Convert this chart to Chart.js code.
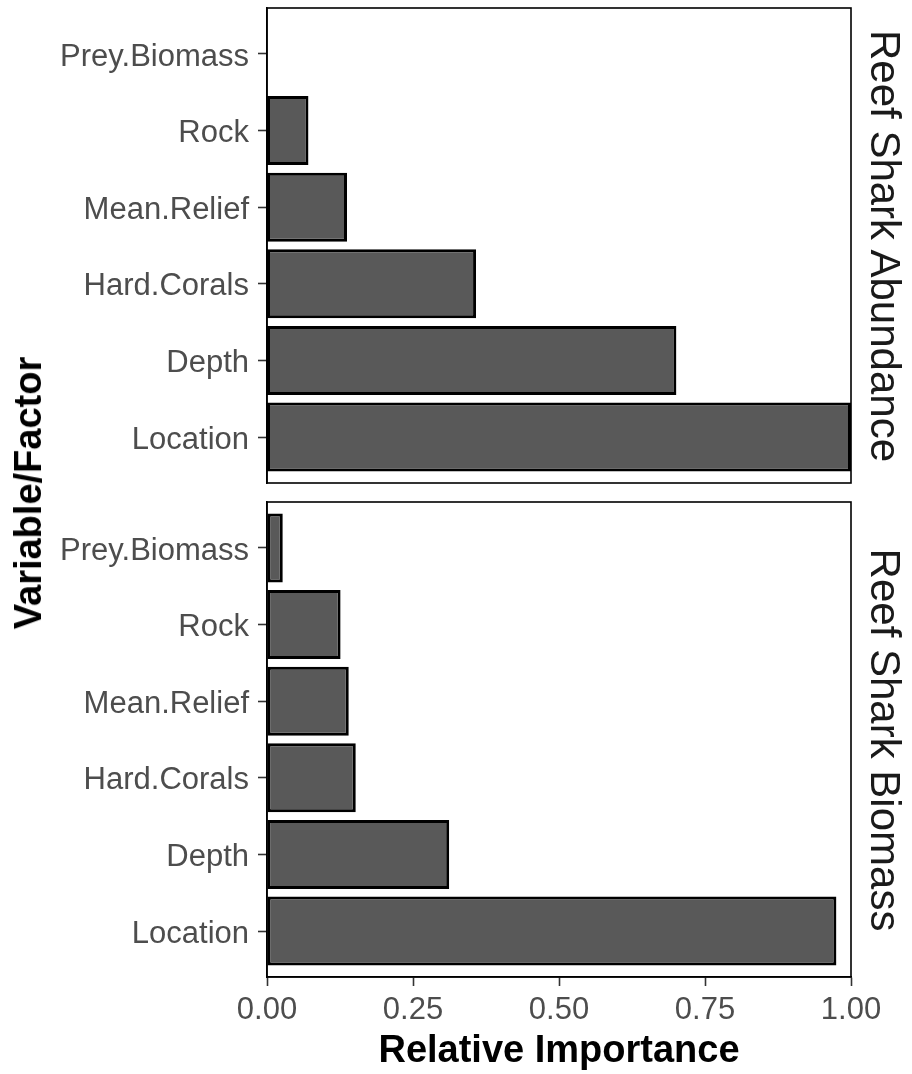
<!DOCTYPE html>
<html>
<head>
<meta charset="utf-8">
<script src="https://cdn.jsdelivr.net/npm/chart.js@4/dist/chart.umd.min.js"></script>
<style>
  html, body { margin: 0; padding: 0; background: #ffffff; }
  body { width: 912px; height: 1074px; position: relative; overflow: hidden; font-family: "Liberation Sans", Arial, sans-serif; }
  .cv { position: absolute; left: 0; }
  .lbl { position: absolute; white-space: nowrap; line-height: 1; }
  #ytitle { font-weight: bold; font-size: 38px; color: #000; left: 28px; top: 493px; transform: translate(-50%, -50%) rotate(-90deg); }
  .strip { font-size: 42px; color: #1a1a1a; left: 885px; transform: translate(-50%, -50%) rotate(90deg); }
  #s1 { top: 246px; }
  #s2 { top: 740px; }
</style>
</head>
<body>
<div class="cv" style="top:0;width:912px;height:492px;"><canvas id="c1"></canvas></div>
<div class="cv" style="top:492px;width:912px;height:582px;"><canvas id="c2"></canvas></div>
<div id="ytitle" class="lbl">Variable/Factor</div>
<div id="s1" class="lbl strip">Reef Shark Abundance</div>
<div id="s2" class="lbl strip">Reef Shark Biomass</div>
<script>
// Categories listed bottom to top
const categories = ["Location", "Depth", "Hard.Corals", "Mean.Relief", "Rock", "Prey.Biomass"];
const abundanceValues = [1.000, 0.701, 0.358, 0.137, 0.071, 0.000];
const biomassValues = [0.975, 0.312, 0.152, 0.140, 0.126, 0.027];
const xTickValues = [0, 0.25, 0.5, 0.75, 1.0];
const panelTitles = ["Reef Shark Abundance", "Reef Shark Biomass"];
const xTitle = "Relative Importance";

Chart.defaults.font.family = "'Liberation Sans', Arial, sans-serif";
Chart.defaults.animation = false;

const panelBorder = {
  id: 'panelBorder',
  afterDatasetsDraw(chart) {
    const a = chart.chartArea, ctx = chart.ctx;
    ctx.save();
    ctx.strokeStyle = '#000';
    ctx.lineWidth = 1.6;
    ctx.strokeRect(a.left, a.top, a.right - a.left, a.bottom - a.top);
    ctx.restore();
  }
};

function makeChart(id, values, showX, padding, xHeight) {
  const data = values.map((v, i) => ({ x: v, y: i + 1 }));
  return new Chart(document.getElementById(id), {
    type: 'bar',
    data: {
      datasets: [{
        data: data,
        backgroundColor: '#595959',
        borderColor: '#000000',
        borderWidth: 3,
        borderSkipped: false,
        categoryPercentage: 1.0,
        barPercentage: 0.9
      }]
    },
    options: {
      indexAxis: 'y',
      responsive: true,
      maintainAspectRatio: false,
      layout: { padding: padding },
      plugins: { legend: { display: false }, tooltip: { enabled: false } },
      scales: {
        x: {
          type: 'linear',
          min: 0, max: 1,
          display: showX,
          afterBuildTicks: (axis) => { axis.ticks = xTickValues.map(v => ({ value: v })); },
          afterFit: (scale) => { if (xHeight) scale.height = xHeight; },
          grid: { offset: false, drawOnChartArea: false, drawTicks: true, tickLength: 9, tickColor: '#333333', tickWidth: 1.6 },
          border: { display: true, color: '#000', width: 1.6 },
          ticks: {
            color: '#4d4d4d', font: { size: 31 }, padding: 6, maxRotation: 0,
            callback: (v) => Number(v).toFixed(2)
          },
          title: {
            display: showX, text: xTitle, color: '#000',
            font: { size: 38, weight: 'bold' }, padding: { top: 4, bottom: 0 }
          }
        },
        y: {
          type: 'linear',
          offset: false,
          min: 0.4, max: 6.6,
          afterBuildTicks: (axis) => { axis.ticks = categories.map((c, i) => ({ value: i + 1 })); },
          afterFit: (scale) => { scale.width = 267; scale.paddingTop = 0; scale.paddingBottom = 0; },
          grid: { offset: false, drawOnChartArea: false, drawTicks: true, tickLength: 9, tickColor: '#333333', tickWidth: 1.6 },
          border: { display: true, color: '#000', width: 1.6 },
          ticks: {
            color: '#4d4d4d', font: { size: 31 }, padding: 9, labelOffset: 3,
            callback: (v) => categories[Math.round(v) - 1]
          }
        }
      }
    },
    plugins: [panelBorder]
  });
}

makeChart('c1', abundanceValues, false, { left: 0, right: 61, top: 8, bottom: 9 }, null);
makeChart('c2', biomassValues, true, { left: 0, right: 61, top: 10, bottom: 0 }, 97);
</script>
</body>
</html>
